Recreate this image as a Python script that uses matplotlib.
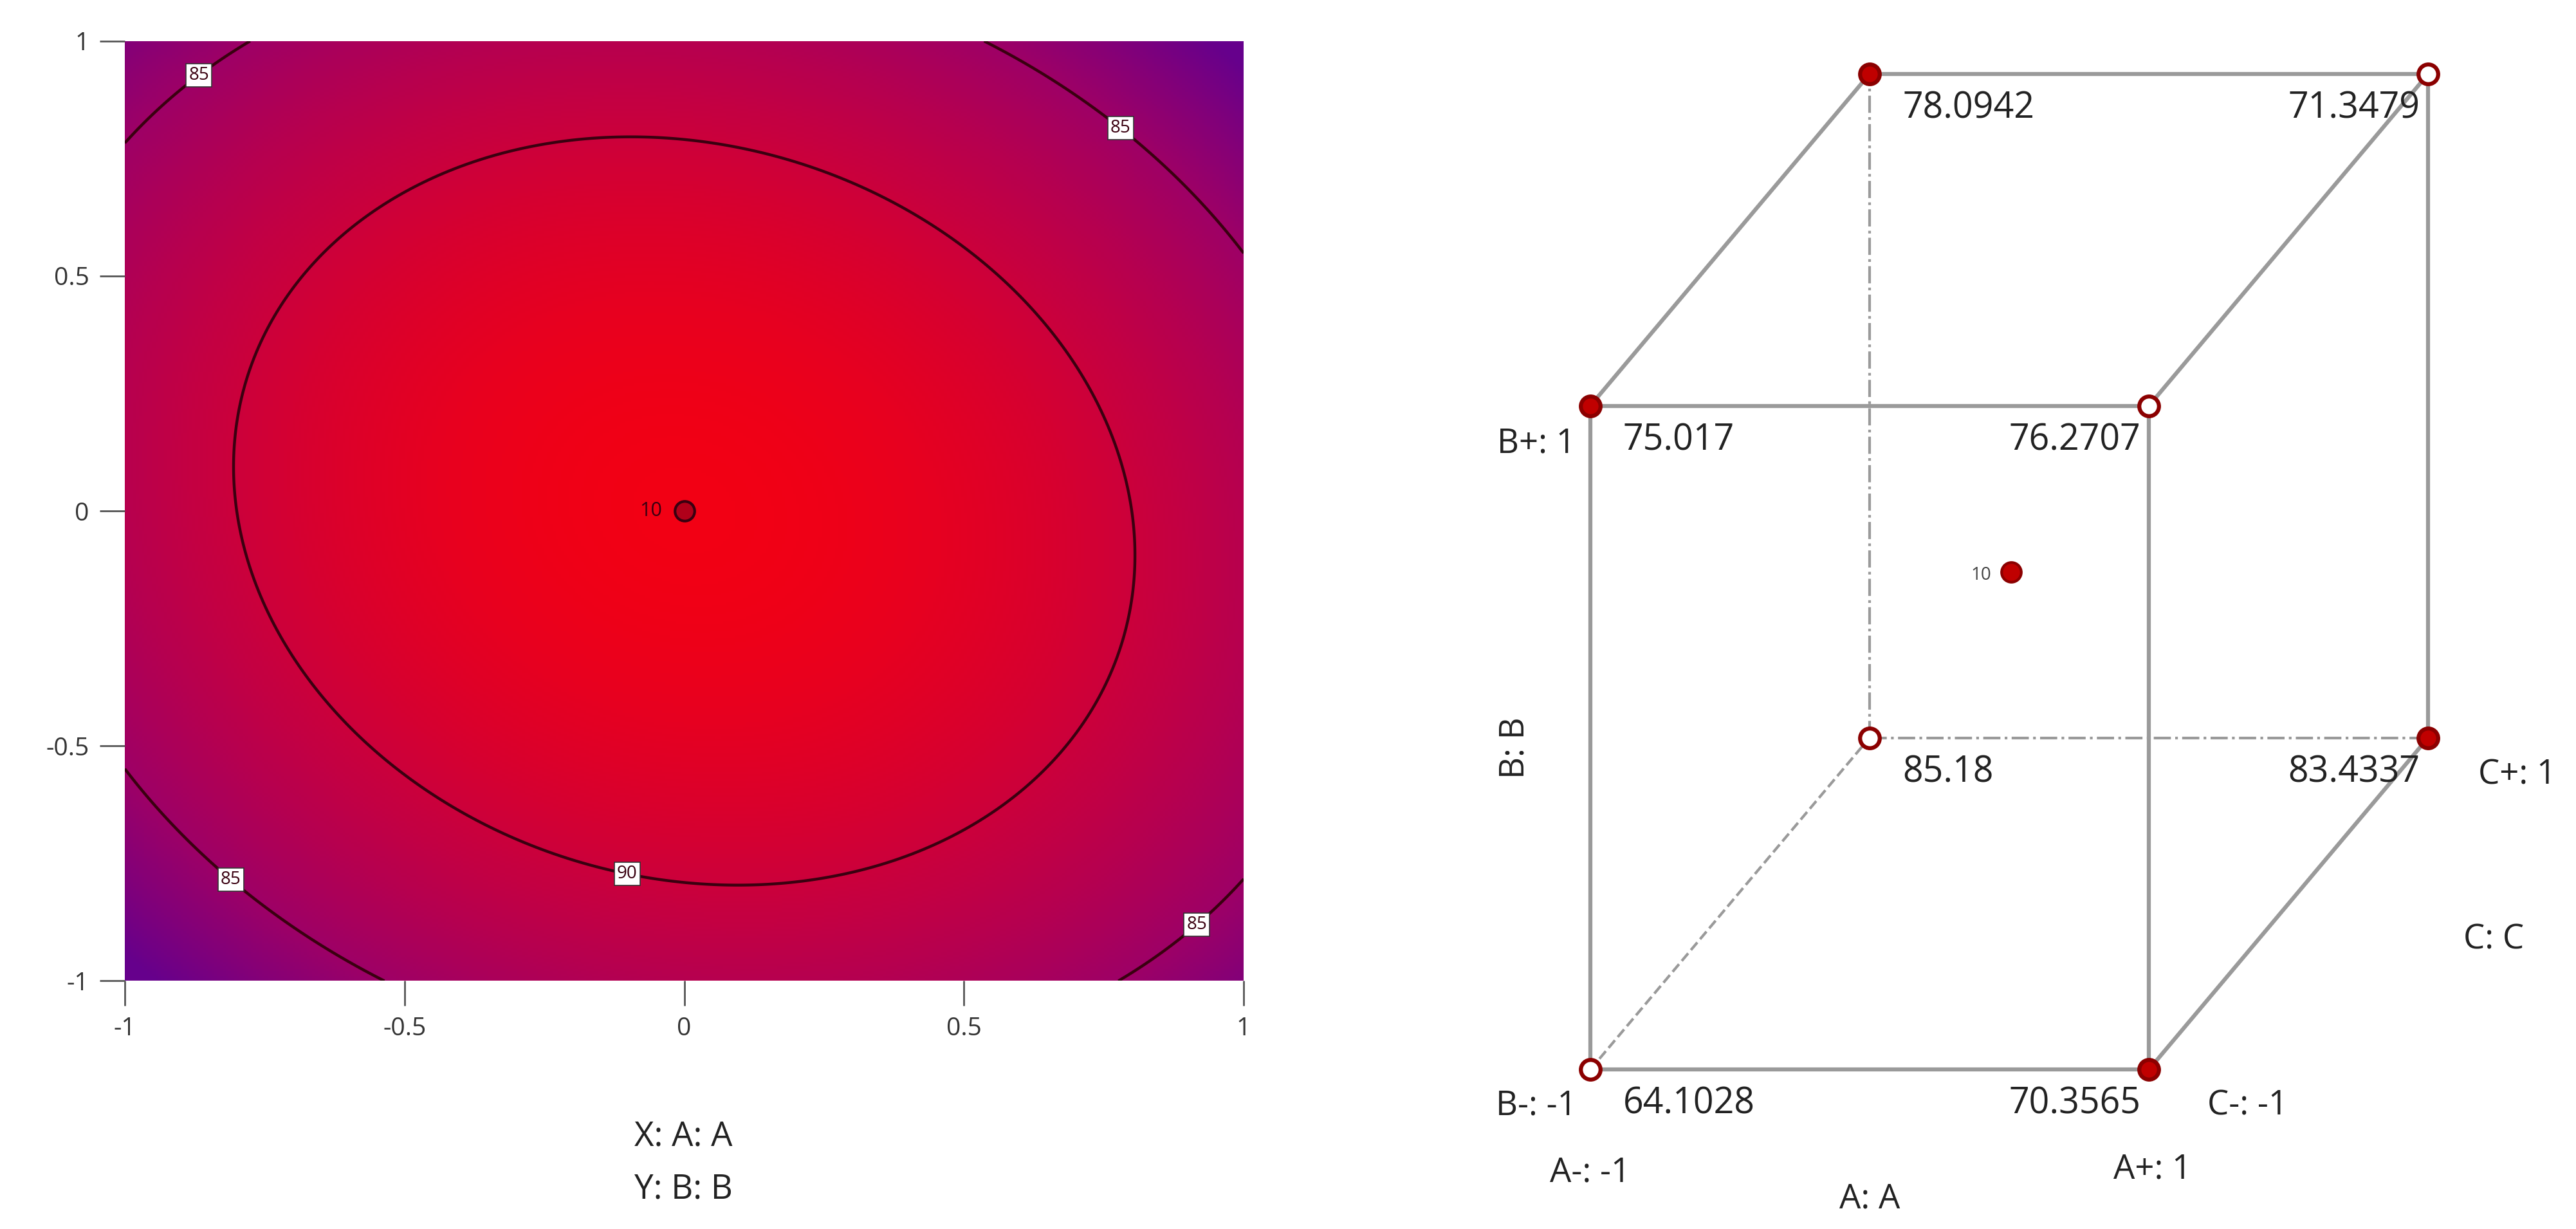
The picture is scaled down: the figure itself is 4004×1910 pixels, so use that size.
import numpy as np
import matplotlib
matplotlib.use("Agg")
import matplotlib.pyplot as plt
from matplotlib.colors import LinearSegmentedColormap

plt.rcParams['font.family'] = ['Open Sans', 'DejaVu Sans']

# response surface model coefficients (estimated from contours)
peak = 94.0
coef_x2 = 6.25
coef_y2 = 6.4
coef_xy = 1.5
contour_levels = [85, 90]
ticks = [-1, -0.5, 0, 0.5, 1]
tick_labels = ["-1", "-0.5", "0", "0.5", "1"]
center_runs = "10"

# cube data: (A, B, C) and response
cube_A = [-1, 1, -1, 1, -1, 1, -1, 1]
cube_B = [-1, -1, 1, 1, -1, -1, 1, 1]
cube_C = [-1, -1, -1, -1, 1, 1, 1, 1]
cube_vals = ["64.1028", "70.3565", "75.017", "76.2707", "85.18", "83.4337", "78.0942", "71.3479"]
cube_filled = [False, True, True, False, False, True, True, False]

W, H = 4004, 1910
fig = plt.figure(figsize=(W/100, H/100), dpi=100)

# ---- contour plot
ax = fig.add_axes([76/1568, 1-597/748, (757-76)/1568, (597-25)/748])
x = np.linspace(-1, 1, 400)
X, Y = np.meshgrid(x, x)
Z = peak - coef_x2*X**2 - coef_y2*Y**2 - coef_xy*X*Y
cmap = LinearSegmentedColormap.from_list("rp", [(0.40, 0.0, 0.55), (0.62, 0.0, 0.40), (0.78, 0.0, 0.25), (0.95, 0.0, 0.08)])
ax.imshow(Z, extent=[-1, 1, -1, 1], origin="lower", cmap=cmap, vmin=80.5, vmax=94, aspect="auto")
cs = ax.contour(X, Y, Z, levels=contour_levels, colors="#3a0010", linewidths=3.2)
lbl = ax.clabel(cs, fmt="%d", fontsize=20, inline=True, inline_spacing=2,
                manual=[(-0.85, 0.9), (0.77, 0.8), (-0.8, -0.77), (0.88, -0.83), (-0.1, -0.76)])
for t in lbl:
    t.set_rotation(0)
    t.set_bbox(dict(facecolor="white", edgecolor="#333333", pad=3, linewidth=1.2))
ax.plot([0], [0], "o", ms=22, mfc="#b0001a", mec="#3a0010", mew=3)
ax.text(-0.04, 0, center_runs, fontsize=22, ha="right", va="center", color="#3a0010")
ax.set_xlim(-1, 1); ax.set_ylim(-1, 1)
ax.set_xticks(ticks); ax.set_xticklabels(tick_labels)
ax.set_yticks(ticks); ax.set_yticklabels(tick_labels)
ax.tick_params(labelsize=28, length=28, width=2, color="#555555", labelcolor="#333333", pad=12)
for sp in ax.spines.values():
    sp.set_visible(False)
fig.text(416/1568, 1-692/748, "X: A: A", fontsize=38, ha="center", va="center", color="#222222")
fig.text(416/1568, 1-724/748, "Y: B: B", fontsize=38, ha="center", va="center", color="#222222")

# ---- cube plot
cx = fig.add_axes([0, 0, 1, 1])
cx.set_xlim(0, 1568); cx.set_ylim(748, 0); cx.axis("off")
ox, oy, side, dx, dy = 968, 651, 340, 170, -202
def P(a, b, c):
    return (ox + (a+1)/2*side + (c+1)/2*dx, oy - (b+1)/2*404 + (c+1)/2*dy)
lc = "#9a9a9a"
solid = [((-1,-1,-1),(1,-1,-1)), ((1,-1,-1),(1,1,-1)), ((1,1,-1),(-1,1,-1)), ((-1,1,-1),(-1,-1,-1)),
         ((-1,1,1),(1,1,1)), ((1,1,1),(1,-1,1)),
         ((-1,1,-1),(-1,1,1)), ((1,1,-1),(1,1,1)), ((1,-1,-1),(1,-1,1))]
for p, q in solid:
    (x1, y1), (x2, y2) = P(*p), P(*q)
    cx.plot([x1, x2], [y1, y2], color=lc, lw=4.5, zorder=1)
for p, q, ls in [((-1,-1,1),(-1,1,1),"-."), ((-1,-1,1),(1,-1,1),"-."), ((-1,-1,-1),(-1,-1,1),"--")]:
    (x1, y1), (x2, y2) = P(*p), P(*q)
    cx.plot([x1, x2], [y1, y2], color=lc, lw=3, ls=ls, zorder=1)
for a, b, c, v, f in zip(cube_A, cube_B, cube_C, cube_vals, cube_filled):
    px, py = P(a, b, c)
    cx.plot([px], [py], "o", ms=22, mfc="#c00000" if f else "white", mec="#8b0000", mew=4.5, zorder=3)
    if a < 0:
        cx.text(px+20, py+10, v, fontsize=40, ha="left", va="top", color="#222222")
    else:
        cx.text(px-5, py+10, v, fontsize=40, ha="right", va="top", color="#222222")
cx.plot([1224], [348], "o", ms=22, mfc="#c00000", mec="#8b0000", mew=3, zorder=3)
cx.text(1212, 350, center_runs, fontsize=20, ha="right", va="center", color="#444444")
lab = dict(fontsize=38, color="#222222", va="center")
cx.text(935, 270, "B+: 1", ha="center", **lab)
cx.text(935, 673, "B-: -1", ha="center", **lab)
cx.text(968, 714, "A-: -1", ha="center", **lab)
cx.text(1138, 730, "A: A", ha="center", **lab)
cx.text(1310, 712, "A+: 1", ha="center", **lab)
cx.text(1368, 673, "C-: -1", ha="center", **lab)
cx.text(1532, 472, "C+: 1", ha="center", **lab)
cx.text(1518, 572, "C: C", ha="center", **lab)
cx.text(922, 455, "B: B", ha="center", rotation=90, **lab)

fig.savefig("out.png", dpi=100, facecolor="white")
